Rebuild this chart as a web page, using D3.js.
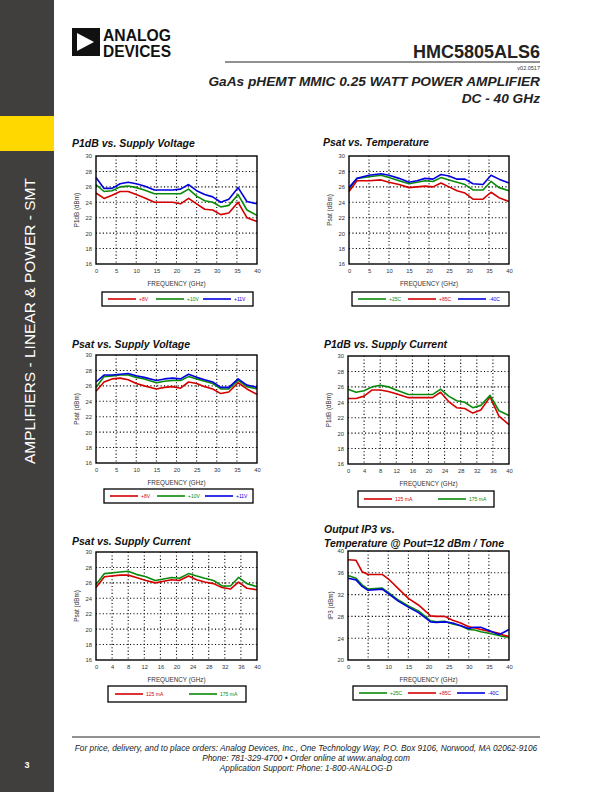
<!DOCTYPE html>
<html><head><meta charset="utf-8">
<script src="https://cdn.jsdelivr.net/npm/d3@7"></script>
<style>
body{margin:0;background:#fff}
svg{display:block}
text{font-family:"Liberation Sans",Arial,Helvetica,sans-serif}
</style>
</head><body>
<svg id="page" width="612" height="792"></svg>
<script>
// ---------- DATA ----------
// Chart 1: P1dB vs. Supply Voltage
const freqP1dbV = [0, 2, 4, 6, 8, 10, 12, 14.5, 17, 19, 21, 23, 25, 27, 29, 31, 33, 35.3, 37.5, 40];
const p1dbV8  = [25.2, 24.5, 24.9, 25.4, 25.4, 25.0, 24.6, 24.0, 24.0, 24.0, 23.8, 24.5, 23.8, 23.1, 23.0, 22.4, 22.6, 24.0, 22.0, 21.5];
const p1dbV10 = [26.3, 25.4, 25.5, 26.0, 26.1, 25.9, 25.6, 25.1, 25.1, 25.1, 25.1, 25.7, 24.8, 24.2, 24.0, 23.4, 23.6, 25.0, 23.0, 22.3];
const p1dbV11 = [27.2, 25.8, 25.8, 26.4, 26.6, 26.4, 26.1, 25.6, 25.6, 25.6, 25.7, 26.3, 25.5, 25.0, 24.7, 24.0, 24.4, 25.9, 24.1, 23.8];

// Chart 2: Psat vs. Temperature
const freqPsatT = [0, 2, 5, 8, 10, 12.5, 15, 17, 19, 21, 23, 25, 27, 29, 31, 33.5, 35.5, 37.5, 40];
const psatT25  = [25.7, 27.1, 27.3, 27.5, 27.2, 26.8, 26.4, 26.6, 26.8, 26.7, 27.2, 26.9, 26.6, 26.3, 25.6, 25.6, 26.7, 25.9, 25.5];
const psatT85  = [25.4, 26.8, 26.8, 26.9, 26.6, 26.3, 25.9, 26.0, 26.1, 26.0, 26.5, 26.0, 25.5, 25.2, 24.4, 24.4, 25.3, 24.6, 24.1];
const psatTm40 = [25.9, 27.1, 27.5, 27.7, 27.5, 27.1, 26.6, 26.8, 27.1, 27.0, 27.6, 27.4, 27.0, 27.0, 26.4, 26.3, 27.5, 27.0, 26.5];

// Chart 3: Psat vs. Supply Voltage
const freqPsatV = [0, 2, 4, 6, 8, 10, 12, 15, 17, 19, 21, 23, 25, 27, 29, 31, 33, 35.3, 37.5, 40];
const psatV8  = [25.3, 26.5, 26.9, 27.0, 26.8, 26.3, 26.0, 25.6, 25.8, 25.9, 25.7, 26.5, 26.3, 25.9, 25.6, 25.0, 25.2, 26.4, 25.6, 24.9];
const psatV10 = [25.8, 27.2, 27.3, 27.4, 27.4, 27.1, 26.9, 26.4, 26.6, 26.7, 26.7, 27.2, 26.9, 26.6, 26.3, 25.6, 25.6, 26.7, 25.9, 25.6];
const psatV11 = [26.5, 27.4, 27.4, 27.5, 27.6, 27.3, 27.1, 26.7, 26.9, 27.0, 26.9, 27.5, 27.1, 26.8, 26.5, 25.8, 25.8, 26.9, 26.1, 25.8];

// Chart 4: P1dB vs. Supply Current
const freqP1dbI = [0, 2, 4, 6, 8, 10, 12, 15, 17, 19, 21, 23, 25, 27, 29, 31, 33, 35.3, 37.5, 40];
const p1dbI125 = [24.5, 24.5, 24.8, 25.6, 25.6, 25.4, 25.1, 24.6, 24.6, 24.6, 24.6, 25.3, 24.1, 23.3, 23.2, 22.6, 23.0, 24.7, 22.2, 21.1];
const p1dbI175 = [25.7, 25.3, 25.5, 26.0, 26.2, 26.0, 25.6, 25.0, 25.0, 25.0, 25.0, 25.7, 24.8, 24.2, 24.0, 23.3, 23.6, 24.9, 22.9, 22.3];

// Chart 5: Psat vs. Supply Current
const freqPsatI = [0, 2.1, 6, 8, 10, 12.4, 14.7, 16.8, 18.8, 20.7, 23, 25, 27, 29.2, 31.3, 33.4, 35.4, 37.5, 40];
const psatI125 = [25.4, 26.8, 27.0, 27.0, 26.7, 26.3, 26.0, 26.2, 26.4, 26.3, 26.9, 26.4, 26.1, 25.9, 25.4, 25.2, 26.1, 25.3, 25.1];
const psatI175 = [25.8, 27.2, 27.4, 27.5, 27.1, 26.8, 26.3, 26.5, 26.7, 26.6, 27.2, 26.9, 26.6, 26.3, 25.6, 25.6, 26.7, 25.9, 25.5];

// Chart 6: Output IP3 vs. Temperature @ Pout=12 dBm / Tone
const freqIp3 = [0, 2, 3.5, 5, 8.5, 10, 12.5, 15, 17.5, 19.5, 20.5, 22, 24, 26, 28, 30, 31.5, 33, 35, 37.5, 38.5, 40];
const ip3T25  = [35.5, 35.0, 33.8, 33.0, 33.2, 32.4, 31.0, 29.9, 29.0, 27.8, 27.2, 27.0, 27.1, 26.6, 26.3, 25.6, 25.5, 25.2, 24.9, 24.5, 24.3, 24.2];
const ip3T85  = [38.4, 38.3, 36.2, 35.7, 35.7, 34.9, 33.1, 31.3, 30.1, 28.8, 28.1, 28.0, 28.0, 27.3, 26.8, 26.1, 25.9, 25.6, 25.3, 24.9, 24.6, 24.3];
const ip3Tm40 = [35.0, 34.7, 33.5, 32.8, 33.0, 32.2, 30.8, 29.7, 28.7, 27.6, 27.0, 26.9, 27.0, 26.8, 26.3, 25.8, 26.0, 26.0, 25.4, 24.7, 25.0, 25.6];

// Tick labels
const xTicks5 = [0, 5, 10, 15, 20, 25, 30, 35, 40];
const xTicks4 = [0, 4, 8, 12, 16, 20, 24, 28, 32, 36, 40];
const yTicksPow = [16, 18, 20, 22, 24, 26, 28, 30];
const yTicksIp3 = [20, 24, 28, 32, 36, 40];

// Legend labels
const voltLabels = ["+8V", "+10V", "+11V"];
const tempLabels = ["+25C", "+85C", "-40C"];
const currLabels = ["125 mA", "175 mA"];

// ---------- STYLE ----------
const RED = "#d40000", GREEN = "#0a8a0a", BLUE = "#0000e0";
const svg = d3.select("#page");

// ---------- PAGE FRAME ----------
svg.append("rect").attr("x", 0).attr("y", 0).attr("width", 54).attr("height", 792).attr("fill", "#403f3e");
svg.append("rect").attr("x", 0).attr("y", 116).attr("width", 54).attr("height", 35).attr("fill", "#ffd800");
svg.append("text").attr("transform", "translate(34.5,321) rotate(-90)")
  .attr("text-anchor", "middle").attr("fill", "#fff").attr("font-size", 15.5)
  .text("AMPLIFIERS - LINEAR & POWER - SMT");
svg.append("text").attr("x", 27).attr("y", 768).attr("text-anchor", "middle")
  .attr("fill", "#fff").attr("font-size", 9).attr("font-weight", "bold").text("3");

// Logo
svg.append("rect").attr("x", 72).attr("y", 28).attr("width", 28).attr("height", 28).attr("fill", "#111");
svg.append("polygon").attr("points", "77,33 94,42 77,51").attr("fill", "#fff");
svg.append("text").attr("x", 103).attr("y", 41).attr("font-size", 16.5).attr("font-weight", "bold")
  .attr("fill", "#111").attr("textLength", 68).attr("lengthAdjust", "spacingAndGlyphs").text("ANALOG");
svg.append("text").attr("x", 103).attr("y", 56.5).attr("font-size", 16.5).attr("font-weight", "bold")
  .attr("fill", "#111").attr("textLength", 68).attr("lengthAdjust", "spacingAndGlyphs").text("DEVICES");

// Header
svg.append("text").attr("x", 540).attr("y", 58).attr("text-anchor", "end").attr("font-size", 18)
  .attr("font-weight", "bold").attr("fill", "#222").text("HMC5805ALS6");
svg.append("line").attr("x1", 225).attr("x2", 540).attr("y1", 62).attr("y2", 62).attr("stroke", "#222").attr("stroke-width", 1);
svg.append("text").attr("x", 540).attr("y", 70).attr("text-anchor", "end").attr("font-size", 5.5)
  .attr("fill", "#333").text("v02.0517");
svg.append("text").attr("x", 540).attr("y", 86).attr("text-anchor", "end").attr("font-size", 13.7)
  .attr("font-weight", "bold").attr("font-style", "italic").attr("fill", "#222")
  .text("GaAs pHEMT MMIC 0.25 WATT POWER AMPLIFIER");
svg.append("text").attr("x", 540).attr("y", 103).attr("text-anchor", "end").attr("font-size", 13.7)
  .attr("font-weight", "bold").attr("font-style", "italic").attr("fill", "#222").text("DC - 40 GHz");

// Footer
svg.append("line").attr("x1", 72).attr("x2", 540).attr("y1", 737).attr("y2", 737).attr("stroke", "#222").attr("stroke-width", 1);
const footer = [
  "For price, delivery, and to place orders: Analog Devices, Inc., One Technology Way, P.O. Box 9106, Norwood, MA 02062-9106",
  "Phone: 781-329-4700 • Order online at www.analog.com",
  "Application Support: Phone: 1-800-ANALOG-D"
];
footer.forEach((t, i) => {
  svg.append("text").attr("x", 306).attr("y", 751 + i * 10).attr("text-anchor", "middle")
    .attr("font-size", 8.3).attr("font-style", "italic").attr("fill", "#222").text(t);
});

// ---------- CHART FUNCTION ----------
function drawChart(cfg) {
  const g = svg.append("g");
  const {x0, x1, y0, y1} = cfg.box;
  const x = d3.scaleLinear().domain([0, 40]).range([x0, x1]);
  const y = d3.scaleLinear().domain(cfg.yDomain).range([y1, y0]);

  // title
  cfg.title.forEach((t, i) => {
    g.append("text").attr("x", cfg.titleX).attr("y", cfg.titleY + i * 14)
      .attr("font-size", 10.5).attr("font-weight", "bold").attr("font-style", "italic")
      .attr("fill", "#111").text(t);
  });

  // grid
  const grid = g.append("g").attr("stroke", "#000").attr("stroke-width", 1.1).attr("stroke-dasharray", "1.1,2.3");
  cfg.xTicks.slice(1, -1).forEach(v => {
    grid.append("line").attr("x1", x(v)).attr("x2", x(v)).attr("y1", y0).attr("y2", y1);
  });
  cfg.yTicks.slice(1, -1).forEach(v => {
    grid.append("line").attr("x1", x0).attr("x2", x1).attr("y1", y(v)).attr("y2", y(v));
  });

  // axes labels via d3 axes (no domain line, no ticks)
  const xAxis = d3.axisBottom(x).tickValues(cfg.xTicks).tickSize(0).tickPadding(5).tickFormat(d3.format("d"));
  const yAxis = d3.axisLeft(y).tickValues(cfg.yTicks).tickSize(0).tickPadding(4).tickFormat(d3.format("d"));
  const gx = g.append("g").attr("transform", `translate(0,${y1})`).call(xAxis);
  const gy = g.append("g").attr("transform", `translate(${x0},0)`).call(yAxis);
  [gx, gy].forEach(a => {
    a.select(".domain").remove();
    a.selectAll("text").attr("font-size", 5.8).attr("fill", "#333")
      .attr("font-family", "'Liberation Sans',Arial,sans-serif");
  });

  // series
  const line = d3.line().x(d => x(d[0])).y(d => y(d[1]));
  cfg.series.forEach(s => {
    g.append("path").datum(s.x.map((f, i) => [f, s.y[i]]))
      .attr("d", line).attr("fill", "none").attr("stroke", s.color)
      .attr("stroke-width", 1.6).attr("stroke-linejoin", "round");
  });

  // frame
  g.append("rect").attr("x", x0).attr("y", y0).attr("width", x1 - x0).attr("height", y1 - y0)
    .attr("fill", "none").attr("stroke", "#000").attr("stroke-width", 1.4);

  // axis titles
  g.append("text").attr("x", (x0 + x1) / 2).attr("y", y1 + 22).attr("text-anchor", "middle")
    .attr("font-size", 6.3).attr("fill", "#333").text("FREQUENCY (GHz)");
  g.append("text").attr("transform", `translate(${cfg.yLabelX},${(y0 + y1) / 2}) rotate(-90)`)
    .attr("text-anchor", "middle").attr("font-size", 6.3).attr("fill", "#333").text(cfg.yLabel);

  // legend
  const L = cfg.legend;
  g.append("rect").attr("x", L.x0).attr("y", L.y0).attr("width", L.x1 - L.x0).attr("height", L.y1 - L.y0)
    .attr("fill", "#fff").attr("stroke", "#000").attr("stroke-width", 1.3);
  const ly = (L.y0 + L.y1) / 2;
  cfg.series.forEach((s, k) => {
    const lx = L.x0 + L.starts[k];
    g.append("line").attr("x1", lx).attr("x2", lx + 28).attr("y1", ly).attr("y2", ly)
      .attr("stroke", s.color).attr("stroke-width", 1.6);
    g.append("text").attr("x", lx + 31).attr("y", ly + 1.8).attr("font-size", 5)
      .attr("fill", s.color).text(s.name);
  });
}

// ---------- CHARTS ----------
drawChart({
  title: ["P1dB vs. Supply Voltage"], titleX: 72, titleY: 147,
  box: {x0: 96, x1: 257, y0: 156, y1: 264},
  yDomain: [16, 30], xTicks: xTicks5, yTicks: yTicksPow,
  yLabel: "P1dB (dBm)", yLabelX: 79,
  series: [
    {x: freqP1dbV, y: p1dbV8, color: RED, name: voltLabels[0]},
    {x: freqP1dbV, y: p1dbV10, color: GREEN, name: voltLabels[1]},
    {x: freqP1dbV, y: p1dbV11, color: BLUE, name: voltLabels[2]}
  ],
  legend: {x0: 102, x1: 253, y0: 292, y1: 306, starts: [6, 54, 101]}
});

drawChart({
  title: ["Psat vs. Temperature"], titleX: 323, titleY: 146,
  box: {x0: 349, x1: 509, y0: 156, y1: 264},
  yDomain: [16, 30], xTicks: xTicks5, yTicks: yTicksPow,
  yLabel: "Psat (dBm)", yLabelX: 332,
  series: [
    {x: freqPsatT, y: psatT25, color: GREEN, name: tempLabels[0]},
    {x: freqPsatT, y: psatT85, color: RED, name: tempLabels[1]},
    {x: freqPsatT, y: psatTm40, color: BLUE, name: tempLabels[2]}
  ],
  legend: {x0: 352, x1: 509, y0: 292, y1: 306, starts: [6, 56, 106]}
});

drawChart({
  title: ["Psat vs. Supply Voltage"], titleX: 72, titleY: 348,
  box: {x0: 96, x1: 257, y0: 355, y1: 463},
  yDomain: [16, 30], xTicks: xTicks5, yTicks: yTicksPow,
  yLabel: "Psat (dBm)", yLabelX: 79,
  series: [
    {x: freqPsatV, y: psatV8, color: RED, name: voltLabels[0]},
    {x: freqPsatV, y: psatV10, color: GREEN, name: voltLabels[1]},
    {x: freqPsatV, y: psatV11, color: BLUE, name: voltLabels[2]}
  ],
  legend: {x0: 104, x1: 253, y0: 489, y1: 503, starts: [6, 53, 101]}
});

drawChart({
  title: ["P1dB vs. Supply Current"], titleX: 324, titleY: 348,
  box: {x0: 348, x1: 509, y0: 356, y1: 464},
  yDomain: [16, 30], xTicks: xTicks4, yTicks: yTicksPow,
  yLabel: "P1dB (dBm)", yLabelX: 331,
  series: [
    {x: freqP1dbI, y: p1dbI125, color: RED, name: currLabels[0]},
    {x: freqP1dbI, y: p1dbI175, color: GREEN, name: currLabels[1]}
  ],
  legend: {x0: 358, x1: 494, y0: 491, y1: 507, starts: [6, 80]}
});

drawChart({
  title: ["Psat vs. Supply Current"], titleX: 72, titleY: 545,
  box: {x0: 96, x1: 257, y0: 552, y1: 660},
  yDomain: [16, 30], xTicks: xTicks4, yTicks: yTicksPow,
  yLabel: "Psat (dBm)", yLabelX: 79,
  series: [
    {x: freqPsatI, y: psatI125, color: RED, name: currLabels[0]},
    {x: freqPsatI, y: psatI175, color: GREEN, name: currLabels[1]}
  ],
  legend: {x0: 108, x1: 246, y0: 686, y1: 702, starts: [7, 81]}
});

drawChart({
  title: ["Output IP3 vs.", "Temperature @ Pout=12 dBm / Tone"], titleX: 324, titleY: 533,
  box: {x0: 348, x1: 509, y0: 551, y1: 660},
  yDomain: [20, 40], xTicks: xTicks5, yTicks: yTicksIp3,
  yLabel: "IP3 (dBm)", yLabelX: 333,
  series: [
    {x: freqIp3, y: ip3T25, color: GREEN, name: tempLabels[0]},
    {x: freqIp3, y: ip3T85, color: RED, name: tempLabels[1]},
    {x: freqIp3, y: ip3Tm40, color: BLUE, name: tempLabels[2]}
  ],
  legend: {x0: 353, x1: 507, y0: 686, y1: 700, starts: [6, 55, 104]}
});
</script>
</body></html>
